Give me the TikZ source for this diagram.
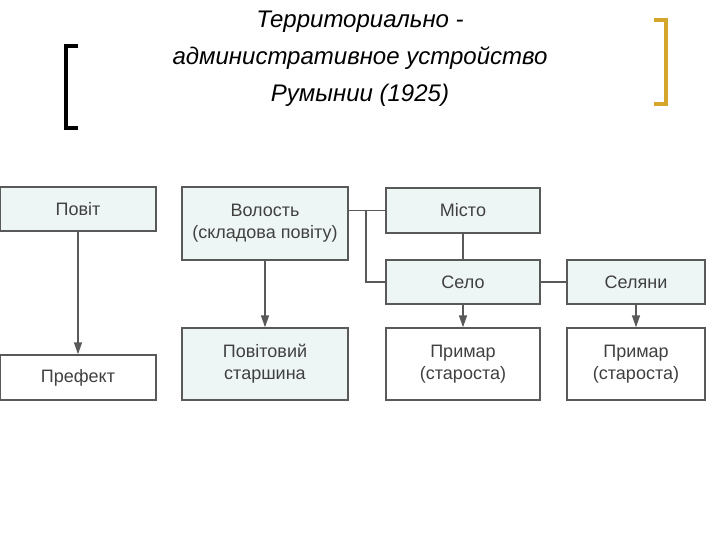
\documentclass[tikz,border=0pt]{standalone}
\usepackage{fontspec}
\setmainfont{Liberation Sans}
\usetikzlibrary{arrows.meta}
\definecolor{boxfill}{HTML}{EEF6F5}
\definecolor{gold}{HTML}{D4A72C}
\begin{document}
\begin{tikzpicture}[x=1pt,y=-1pt,
 bx/.style={draw=black!65,line width=1.4pt,fill=boxfill,inner sep=0pt,font=\fontsize{18}{22}\selectfont,text=black!75,align=center},
 ln/.style={draw=black!65,line width=1.4pt},
 ar/.style={ln,-{Triangle[length=12pt,width=8pt]}}]
\useasboundingbox (0,0) rectangle (720,540);
\node[font=\itshape\fontsize{24}{37}\selectfont,align=center] (title) at (360,59) {Территориально -\\административное устройство\\Румынии (1925)};
\draw[line width=4.5pt] (78,46) -- (66,46) -- (66,128) -- (78,128);
\draw[gold,line width=4.5pt] (654,20) -- (666,20) -- (666,104) -- (654,104);
\node[bx,minimum width=156,minimum height=44] (povit) at (78,209) {Повіт};
\node[bx,minimum width=166,minimum height=73] (volost) at (265,223.5) {Волость\\(складова повіту)};
\node[bx,minimum width=154,minimum height=45] (misto) at (463,210.5) {Місто};
\node[bx,minimum width=154,minimum height=44] (selo) at (463,282) {Село};
\node[bx,minimum width=138,minimum height=44] (selyany) at (636,282) {Селяни};
\node[bx,fill=white,minimum width=156,minimum height=45] (prefekt) at (78,377.5) {Префект};
\node[bx,minimum width=166,minimum height=72] (starsh) at (265,364) {Повітовий\\старшина};
\node[bx,fill=white,minimum width=154,minimum height=72] (primar1) at (463,364) {Примар\\(староста)};
\node[bx,fill=white,minimum width=138,minimum height=72] (primar2) at (636,364) {Примар\\(староста)};
\coordinate (j) at (366,210.5);
\draw[ln] (volost.east |- misto) -- (misto.west);
\draw[ln] (j) |- (selo.west);
\draw[ln] (misto) -- (selo);
\draw[ln] (selo) -- (selyany);
\draw[ar] (povit) -- (prefekt);
\draw[ar] (volost) -- (starsh);
\draw[ar] (selo) -- (primar1);
\draw[ar] (selyany) -- (primar2);
\end{tikzpicture}
\end{document}
